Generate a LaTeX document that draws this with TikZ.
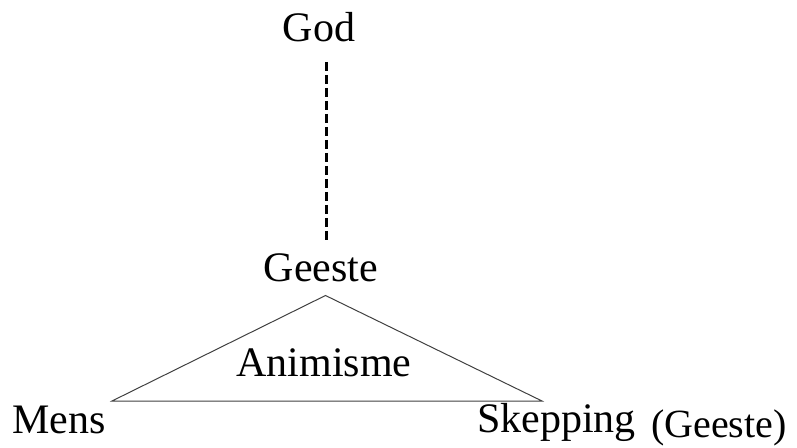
\documentclass[tikz,border=0pt]{standalone}
\usepackage{fontspec}
\setmainfont{Liberation Serif}
\begin{document}
\begin{tikzpicture}[x=1bp,y=-1bp,
  lbl/.style={inner sep=0pt,anchor=base,font=\fontsize{42bp}{48bp}\selectfont},
  dashline/.style={line width=3bp,dash pattern=on 9bp off 4bp},
  tri/.style={draw=black!75,line width=1bp,line join=miter}]
\useasboundingbox (0,0) rectangle (797,448);
\node[lbl] (god) at (319,42) {God};
\node[lbl] (geeste) at (321,282) {Geeste};
\node[lbl] (anim) at (324,377) {Animisme};
\node[lbl,anchor=base west] (mens) at (12,433) {Mens};
\node[lbl,anchor=base west] (skep) at (477,432) {Skepping};
\node[lbl,anchor=base west,font=\fontsize{40bp}{46bp}\selectfont] (geeste2) at (651,437) {(Geeste)};
\coordinate (dtop) at (326,62);
\coordinate (dbot) at (326,241);
\draw[dashline] (dtop) -- (dbot);
\coordinate (apex) at (325.5,295.5);
\coordinate (tl) at (112,401);
\coordinate (tr) at (542,401);
\draw[tri] (apex) -- (tl) -- (tr) -- cycle;
\end{tikzpicture}
\end{document}
